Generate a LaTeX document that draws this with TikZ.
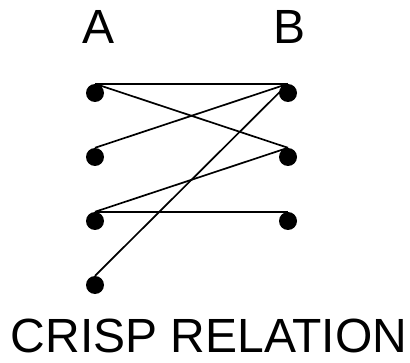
\documentclass[tikz,border=0pt]{standalone}
\usepackage{fontspec}
\setmainfont{Liberation Sans}
\begin{document}
\begin{tikzpicture}[x=1pt,y=1pt,
  dot/.style={circle,fill=black,inner sep=0pt,minimum size=18pt},
  link/.style={line width=1.7pt},
  lbl/.style={font=\fontsize{48}{52}\selectfont,anchor=base,inner sep=0pt}]
\useasboundingbox (0,0) rectangle (410,362);
\node[lbl] (la) at (99,318) {A};
\node[lbl] (lb) at (290,318) {B};
\node[lbl] (title) at (209,10) {CRISP RELATION};
\node[dot] (a1) at (95,269) {};
\node[dot] (a2) at (95,205) {};
\node[dot] (a3) at (95,141) {};
\node[dot] (a4) at (95,77) {};
\node[dot] (b1) at (288,269) {};
\node[dot] (b2) at (288,205) {};
\node[dot] (b3) at (288,141) {};
\draw[link] (a1.north) -- (b1.north);
\draw[link] (a1.north) -- (b2.north);
\draw[link] (a2.north) -- (b1.north);
\draw[link] (a3.north) -- (b2.north);
\draw[link] (a3.north) -- (b3.north);
\draw[link] (a4.north) -- (b1.north);
\end{tikzpicture}
\end{document}
